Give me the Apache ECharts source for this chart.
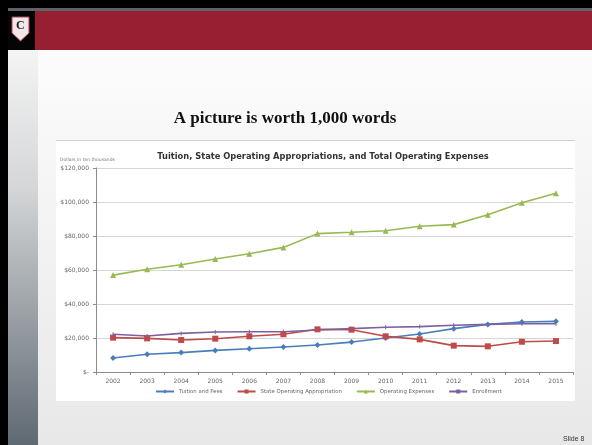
<!DOCTYPE html>
<html>
<head>
<meta charset="utf-8">
<script src="https://cdn.jsdelivr.net/npm/echarts@6/dist/echarts.min.js"></script>
<style>
html,body{margin:0;padding:0;width:592px;height:445px;overflow:hidden;background:#000;}
#c{width:592px;height:445px;}
</style>
</head>
<body>
<div id="c"></div>
<script>
const years = ['2002','2003','2004','2005','2006','2007','2008','2009','2010','2011','2012','2013','2014','2015'];
const tuitionFees = [8200,10400,11400,12700,13700,14700,15900,17600,20000,22400,25500,28000,29400,29800];
const stateAppropriation = [20200,19800,18800,19600,21000,22200,25100,24900,21000,19200,15500,15100,17800,18200];
const operatingExpenses = [57000,60400,63100,66500,69600,73300,81400,82200,83100,85700,86700,92500,99600,105100];
const enrollment = [22200,21200,22700,23500,23700,23700,24700,25500,26300,26700,27500,28000,28400,28400];
const seriesNames = ['Tuition and Fees','State Operating Appropriation','Operating Expenses','Enrollment'];

const chart = echarts.init(document.getElementById('c'), null, {renderer:'canvas'});

function lineSeries(name, data, color, symbol, size){
  return {
    name: name, type: 'line', data: data,
    symbol: symbol, symbolSize: size,
    lineStyle: {color: color, width: 1.6},
    itemStyle: {color: color},
    z: 5, animation: false
  };
}

chart.setOption({
  animation: false,
  backgroundColor: '#000',
  graphic: [
    {type:'rect', z:-10, shape:{x:8,y:8,width:584,height:3}, style:{fill:'#5d6369'}},
    {type:'rect', z:-10, shape:{x:8,y:11,width:584,height:39}, style:{fill:'#971f32'}},
    {type:'rect', z:-10, shape:{x:8,y:11,width:27,height:39}, style:{fill:'#050505'}},
    {type:'rect', z:-10, shape:{x:8,y:50,width:30,height:395}, style:{fill:{type:'linear',x:0,y:0,x2:0,y2:1,colorStops:[{offset:0,color:'#f4f4f4'},{offset:0.35,color:'#d4d6d8'},{offset:1,color:'#5f6971'}]}}},
    {type:'rect', z:-10, shape:{x:38,y:50,width:554,height:395}, style:{fill:{type:'linear',x:0,y:0,x2:0,y2:1,colorStops:[{offset:0,color:'#fcfcfc'},{offset:1,color:'#e8e8e8'}]}}},
    {type:'polygon', z:-9, shape:{points:[[12,17],[29,17],[29,33],[20.5,41],[12,33]]}, style:{fill:'#f2e8ea', stroke:'#b04050', lineWidth:1}},
    {type:'text', z:-8, x:16, y:20, style:{text:'C', fill:'#222', font:'bold 12px "Liberation Serif"'}},
    {type:'rect', z:-7, shape:{x:56,y:140,width:519,height:261}, style:{fill:'#ffffff'}},
    {type:'line', z:-6, shape:{x1:56,y1:140.5,x2:575,y2:140.5}, style:{stroke:'#cfcfcf', lineWidth:1}},
    {type:'text', z:2, left:60, top:157, style:{text:'Dollars in ten thousands', fill:'#777', font:'4.5px "DejaVu Sans"'}},
    {type:'text', z:2, left:563, top:436, style:{text:'Slide 8', fill:'#333', font:'7px "Liberation Sans"'}}
  ],
  title: [
    {text:'A picture is worth 1,000 words', left:280, top:105, textAlign:'center',
     textStyle:{fontFamily:'Liberation Serif', fontWeight:'bold', fontSize:17, color:'#111'}},
    {text:'Tuition, State Operating Appropriations, and Total Operating Expenses', left:318, top:148, textAlign:'center',
     textStyle:{fontFamily:'DejaVu Sans', fontWeight:'bold', fontSize:8.3, color:'#333'}}
  ],
  legend: {
    data: seriesNames, bottom: 46, left: 150,
    itemWidth: 18, itemHeight: 5, itemGap: 14,
    textStyle: {fontSize: 5.4, color: '#666', fontFamily: 'DejaVu Sans'}
  },
  grid: {left: 96, right: 19, top: 168, bottom: 73},
  xAxis: {
    type: 'category', data: years, boundaryGap: true,
    axisLine: {lineStyle: {color: '#8c8c8c', width: 1}},
    axisTick: {show: true, length: 3, lineStyle: {color: '#8c8c8c'}},
    axisLabel: {fontSize: 6, color: '#666', margin: 6, fontFamily: 'DejaVu Sans'}
  },
  yAxis: {
    type: 'value', min: 0, max: 120000, interval: 20000,
    axisLine: {show: true, lineStyle: {color: '#8c8c8c', width: 1}},
    axisTick: {show: true, length: 3, lineStyle: {color: '#8c8c8c'}},
    splitLine: {lineStyle: {color: '#d6d6d6', width: 1.2}},
    axisLabel: {fontSize: 6, color: '#666', margin: 7, fontFamily: 'DejaVu Sans',
      formatter: function(v){ return v === 0 ? '$-' : '$' + v.toLocaleString('en-US'); }}
  },
  series: [
    lineSeries(seriesNames[0], tuitionFees, '#4a7ebb', 'diamond', 6),
    lineSeries(seriesNames[1], stateAppropriation, '#be4b48', 'rect', 6),
    lineSeries(seriesNames[2], operatingExpenses, '#98b954', 'triangle', 6),
    lineSeries(seriesNames[3], enrollment, '#7d60a0', 'rect', [1,4])
  ]
});
</script>
</body>
</html>
